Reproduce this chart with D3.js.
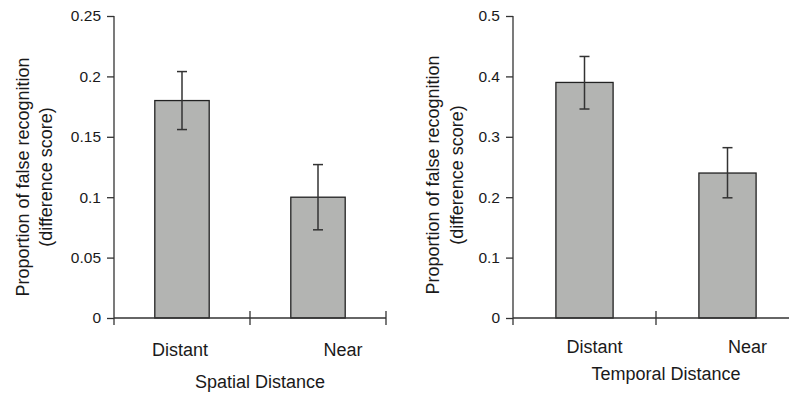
<!DOCTYPE html>
<html>
<head>
<meta charset="utf-8">
<script src="https://cdn.jsdelivr.net/npm/d3@7"></script>
<style>
  html, body { margin: 0; padding: 0; background: #fff; }
  svg { display: block; font-family: "Liberation Sans", Arial, sans-serif; }
</style>
</head>
<body>
<svg id="chart" width="789" height="395"></svg>
<script>
// ---- Data ----
const categories = ["Distant", "Near"];

const spatialValues = [0.18, 0.10];
const spatialErrUpper = [0.204, 0.127];
const spatialErrLower = [0.156, 0.073];
const spatialTicks = [0, 0.05, 0.1, 0.15, 0.2, 0.25];
const spatialTickLabels = ["0", "0.05", "0.1", "0.15", "0.2", "0.25"];

const temporalValues = [0.39, 0.24];
const temporalErrUpper = [0.433, 0.282];
const temporalErrLower = [0.346, 0.199];
const temporalTicks = [0, 0.1, 0.2, 0.3, 0.4, 0.5];
const temporalTickLabels = ["0", "0.1", "0.2", "0.3", "0.4", "0.5"];

const yLabelLines = ["Proportion of false recognition", "(difference score)"];
const xTitles = ["Spatial Distance", "Temporal Distance"];

// ---- Layout ----
const panels = [
  {
    values: spatialValues, up: spatialErrUpper, lo: spatialErrLower,
    ticks: spatialTicks, tickLabels: spatialTickLabels, title: xTitles[0],
    axisX: 114, step: 136, titleX: 260, labelOffsets: [-2, 25],
    yLabelX: [29, 52], yLabelY: 177, catY: 356, titleY: 388
  },
  {
    values: temporalValues, up: temporalErrUpper, lo: temporalErrLower,
    ticks: temporalTicks, tickLabels: temporalTickLabels, title: xTitles[1],
    axisX: 513, step: 143, titleX: 666, labelOffsets: [10, 20],
    yLabelX: [439, 463], yLabelY: 175, catY: 353, titleY: 380
  }
];

const yTop = 16, yBottom = 318;
const tickLen = 7;
const axisColor = "#333";
const textColor = "#1a1a1a";
const barFill = "#b3b4b2";
const barStroke = "#222";

const svg = d3.select("#chart");

panels.forEach(p => {
  const g = svg.append("g");
  const yMax = p.ticks[p.ticks.length - 1];
  const y = d3.scaleLinear().domain([0, yMax]).range([yBottom, yTop]);
  const x = d3.scaleBand().domain(categories)
    .range([p.axisX, p.axisX + p.step * categories.length]).padding(0);
  const bw = x.bandwidth() * 0.4;

  // Y axis
  const yAxis = d3.axisLeft(y).tickValues(p.ticks).tickSize(tickLen)
    .tickPadding(6)
    .tickFormat((d, i) => p.tickLabels[i]);
  const ya = g.append("g").attr("transform", `translate(${p.axisX},0)`).call(yAxis);
  ya.select(".domain").remove();
  ya.selectAll(".tick line").attr("stroke", axisColor).attr("stroke-width", 1.3);
  ya.selectAll(".tick text").attr("fill", textColor)
    .style("font-size", "15.5px").style("font-family", "Liberation Sans, Arial, sans-serif");
  g.append("line")
    .attr("x1", p.axisX).attr("x2", p.axisX)
    .attr("y1", y(yMax)).attr("y2", y(0) + tickLen)
    .attr("stroke", axisColor).attr("stroke-width", 1.3);

  // Bars
  g.selectAll("rect.bar").data(categories).enter().append("rect")
    .attr("x", d => x(d) + (x.bandwidth() - bw) / 2)
    .attr("y", (d, i) => y(p.values[i]))
    .attr("width", bw)
    .attr("height", (d, i) => y(0) - y(p.values[i]))
    .attr("fill", barFill)
    .attr("stroke", barStroke).attr("stroke-width", 1.3);

  // X axis line
  const xr = x.range();
  g.append("line")
    .attr("x1", xr[0]).attr("x2", xr[1])
    .attr("y1", y(0)).attr("y2", y(0))
    .attr("stroke", axisColor).attr("stroke-width", 1.5);
  // X ticks at band boundaries
  const bounds = [xr[0]].concat(categories.map(c => x(c) + x.bandwidth()));
  g.selectAll("line.xt").data(bounds.slice(1)).enter().append("line")
    .attr("x1", d => d).attr("x2", d => d)
    .attr("y1", y(0) - tickLen).attr("y2", y(0) + tickLen)
    .attr("stroke", axisColor).attr("stroke-width", 1.3);

  // Error bars
  const capW = 10;
  categories.forEach((c, i) => {
    const cx = x(c) + x.bandwidth() / 2;
    const eg = g.append("g").attr("stroke", "#333").attr("stroke-width", 1.5);
    eg.append("line").attr("x1", cx).attr("x2", cx)
      .attr("y1", y(p.up[i])).attr("y2", y(p.lo[i]));
    eg.append("line").attr("x1", cx - capW / 2).attr("x2", cx + capW / 2)
      .attr("y1", y(p.up[i])).attr("y2", y(p.up[i]));
    eg.append("line").attr("x1", cx - capW / 2).attr("x2", cx + capW / 2)
      .attr("y1", y(p.lo[i])).attr("y2", y(p.lo[i]));
  });

  // Category labels
  g.selectAll("text.cat").data(categories).enter().append("text")
    .attr("x", (d, i) => x(d) + x.bandwidth() / 2 + p.labelOffsets[i])
    .attr("y", p.catY)
    .attr("text-anchor", "middle")
    .attr("fill", textColor)
    .style("font-size", "18px")
    .text(d => d);

  // X title
  g.append("text")
    .attr("x", p.titleX).attr("y", p.titleY)
    .attr("text-anchor", "middle")
    .attr("fill", textColor)
    .style("font-size", "18px")
    .text(p.title);

  // Y label (two lines, rotated)
  yLabelLines.forEach((t, i) => {
    g.append("text")
      .attr("transform", `translate(${p.yLabelX[i]},${p.yLabelY}) rotate(-90)`)
      .attr("text-anchor", "middle")
      .attr("fill", textColor)
      .style("font-size", "18px")
      .text(t);
  });
});
</script>
</body>
</html>
